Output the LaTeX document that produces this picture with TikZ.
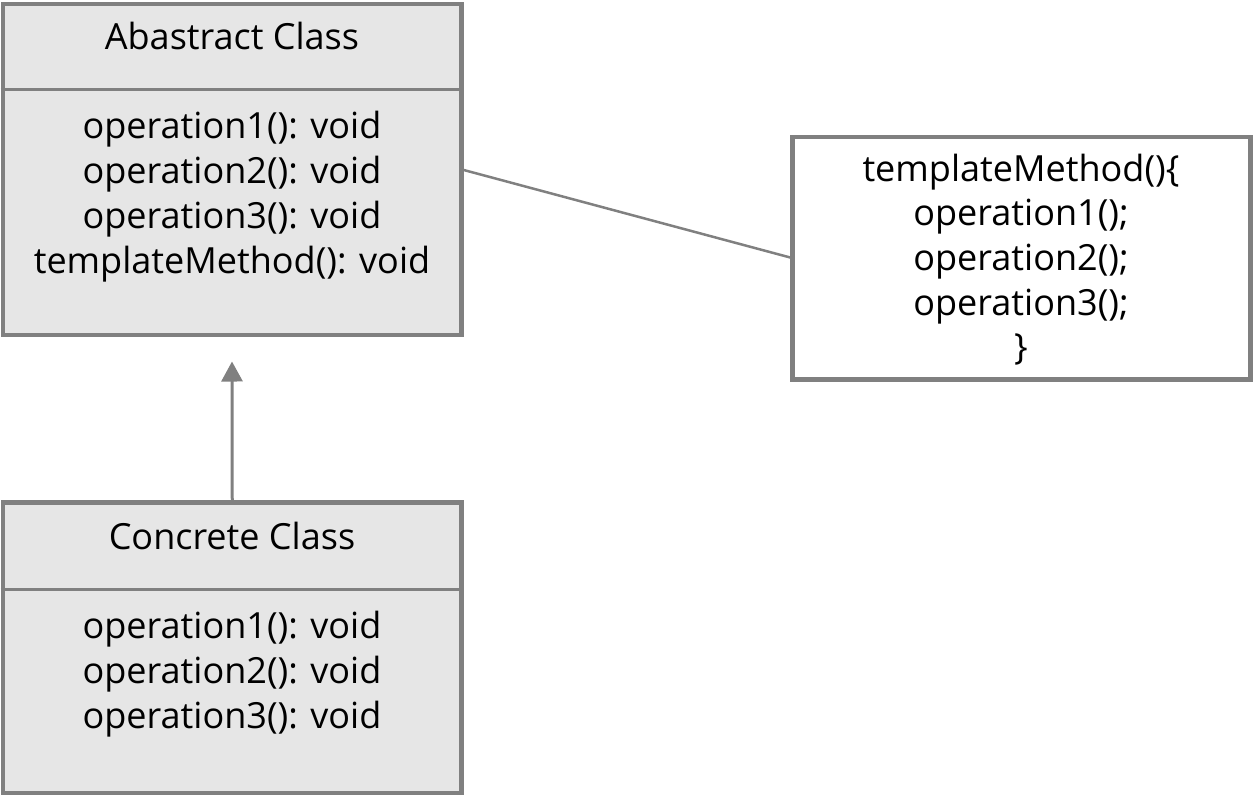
\documentclass[tikz,border=0pt]{standalone}
\usepackage{fontspec}
\setmainfont{Open Sans}
\usetikzlibrary{arrows.meta}
\definecolor{bordergray}{RGB}{128,128,128}
\definecolor{boxfill}{RGB}{230,230,230}
\tikzset{
  classbox/.style={draw=bordergray, fill=boxfill, line width=0.9mm, rectangle, inner sep=0pt, minimum width=91.7mm},
  codebox/.style={draw=bordergray, fill=white, line width=0.9mm, rectangle, inner sep=0pt, minimum width=91.6mm, minimum height=48.5mm},
  divider/.style={draw=bordergray, line width=0.5mm},
  connector/.style={draw=bordergray, line width=0.5mm},
  inherit/.style={draw=bordergray, line width=0.6mm, -{Triangle[length=4mm,width=4.2mm,fill=bordergray]}},
  txt/.style={inner sep=0pt, anchor=base, font=\fontsize{20.5pt}{24pt}\selectfont, text=black}
}
\begin{document}
\begin{tikzpicture}[x=0.2mm,y=-0.2mm]
\useasboundingbox (0,0) rectangle (1253,796);
% boxes
\node[classbox, minimum height=66.2mm] (abs) at (232.25,169.5) {};
\node[classbox, minimum height=58.1mm] (con) at (232.25,647.75) {};
\node[codebox] (tm) at (1021.5,258.25) {};
% dividers
\draw[divider] (abs.west |- 0,89.5) -- (abs.east |- 0,89.5);
\draw[divider] (con.west |- 0,589.5) -- (con.east |- 0,589.5);
% connectors
\draw[connector] (abs.east |- 0,170) -- (tm.west |- 0,257.5);
\coordinate (tip) at (232,361.5);
\draw[inherit] (con.north) -- (tip);
% abstract class text
\node[txt] (a0) at (232,49.5) {Abastract Class};
\node[txt] (a1) at (232,138.3) {operation1(): void};
\node[txt] (a2) at (232,183) {operation2(): void};
\node[txt] (a3) at (232,228.3) {operation3(): void};
\node[txt] (a4) at (232,273.3) {templateMethod(): void};
% concrete class text
\node[txt] (c0) at (232,549.3) {Concrete Class};
\node[txt] (c1) at (232,638.3) {operation1(): void};
\node[txt] (c2) at (232,683.3) {operation2(): void};
\node[txt] (c3) at (232,728.3) {operation3(): void};
% template method code
\node[txt] (m0) at (1021,181) {templateMethod()\{};
\node[txt] (m1) at (1021,225.5) {operation1();};
\node[txt] (m2) at (1021,270) {operation2();};
\node[txt] (m3) at (1021,315) {operation3();};
\node[txt] (m4) at (1021,359.5) {\}};
\end{tikzpicture}
\end{document}
